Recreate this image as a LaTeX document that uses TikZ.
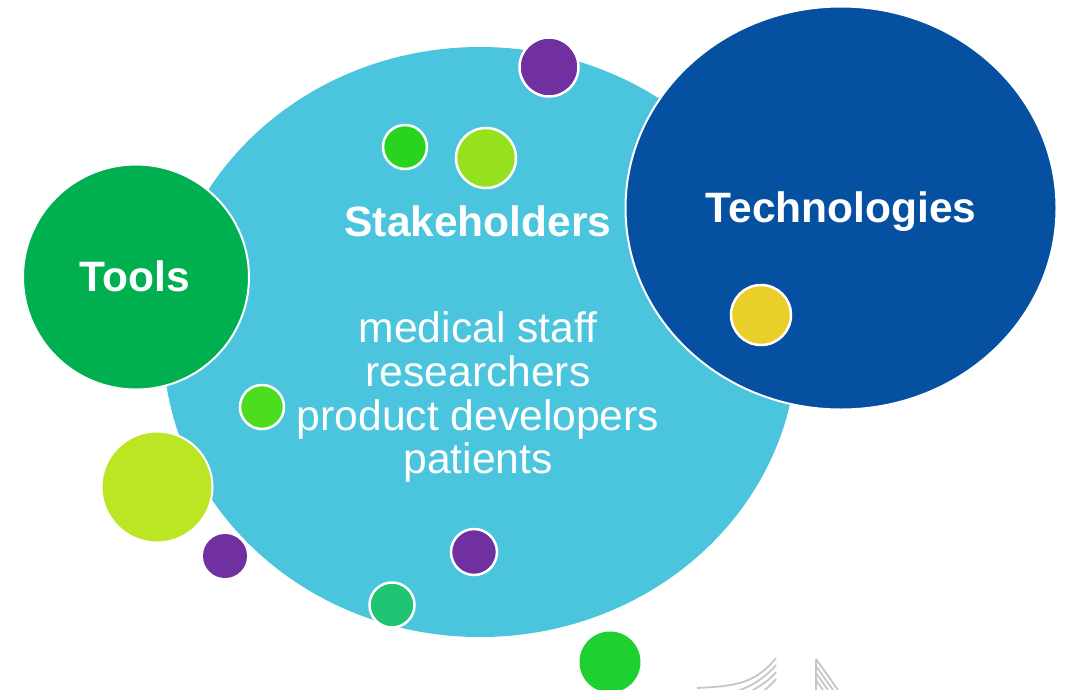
\documentclass[tikz,border=0pt]{standalone}
\usepackage{fontspec}
\setmainfont{Liberation Sans}
\usetikzlibrary{shapes.geometric}
\definecolor{cyanbg}{HTML}{4BC4DD}
\definecolor{toolsg}{HTML}{00AF50}
\definecolor{techb}{HTML}{0550A0}
\definecolor{purp}{HTML}{7030A0}
\definecolor{gA}{HTML}{28D41E}
\definecolor{gB}{HTML}{95E11D}
\definecolor{yel}{HTML}{EACE2A}
\definecolor{gC}{HTML}{4CDD1E}
\definecolor{gD}{HTML}{BCE623}
\definecolor{teal2}{HTML}{20C472}
\definecolor{gE}{HTML}{1FD130}
\definecolor{logogray}{HTML}{C4C6C8}
\tikzset{
  bigblob/.style={ellipse, inner sep=0pt, draw=white, line width=2pt},
  dot/.style={circle, inner sep=0pt, draw=white, line width=2.5pt, minimum size=#1},
  plaindot/.style={circle, inner sep=0pt, minimum size=#1},
  title/.style={text=white, font=\fontsize{42.5}{44}\selectfont\bfseries, anchor=base},
  body/.style={text=white, font=\fontsize{42.6}{44}\selectfont, anchor=base},
  logo/.style={draw=logogray, line width=1.8pt}
}
\begin{document}
\begin{tikzpicture}[x=1pt,y=-1pt]
\useasboundingbox[fill=white] (0,0) rectangle (1071,689);
% big shapes
\node[ellipse, inner sep=0pt, fill=cyanbg, minimum width=634pt, minimum height=590pt] (stake) at (480,342) {};
\node[bigblob, fill=toolsg, minimum width=226pt, minimum height=225pt] (tools) at (136,277) {};
\node[bigblob, fill=techb, minimum width=431pt, minimum height=403pt] (tech) at (841,208) {};
% small dots
\node[dot=59pt, fill=purp] (p1) at (549,67) {};
\node[dot=44pt, fill=gA] (d1) at (405,147) {};
\node[dot=60pt, fill=gB] (d2) at (486,158) {};
\node[dot=60pt, fill=yel] (d3) at (761,315) {};
\node[dot=44pt, fill=gC] (d4) at (262,407) {};
\node[bigblob, fill=gD, minimum width=111pt, minimum height=111pt] (d5) at (157,487) {};
\node[plaindot=44pt, fill=purp] (p2) at (225,556) {};
\node[dot=46pt, fill=purp] (p3) at (474,552) {};
\node[dot=45pt, fill=teal2] (d6) at (392,605) {};
\node[plaindot=61pt, fill=gE] (d7) at (610,662) {};
% labels
\node[title] (ttools) at (135,291) {Tools};
\node[title] (ttech) at (841,222) {Technologies};
\node[title] (tstake) at (478,236) {Stakeholders};
\node[body] (m1) at (478,342) {medical staff};
\node[body] (m2) at (478,386) {researchers};
\node[body] (m3) at (478,430) {product developers};
\node[body] (m4) at (478,473) {patients};
% faint logo fragment
\draw[logo] (697,688) .. controls (735,686) and (755,684) .. (776,658);
\draw[logo] (735,692) .. controls (752,686) and (765,678) .. (776,665);
\draw[logo] (748,693) .. controls (760,686) and (770,680) .. (776,672);
\draw[logo] (760,694) .. controls (767,688) and (772,684) .. (776,679);
\draw[logo] (816,659) -- (838,690);
\draw[logo] (816,666) -- (833,690);
\draw[logo] (816,673) -- (828,690);
\draw[logo] (816,680) -- (823,690);
\draw[logo] (816,659) -- (816,690);
\end{tikzpicture}
\end{document}
